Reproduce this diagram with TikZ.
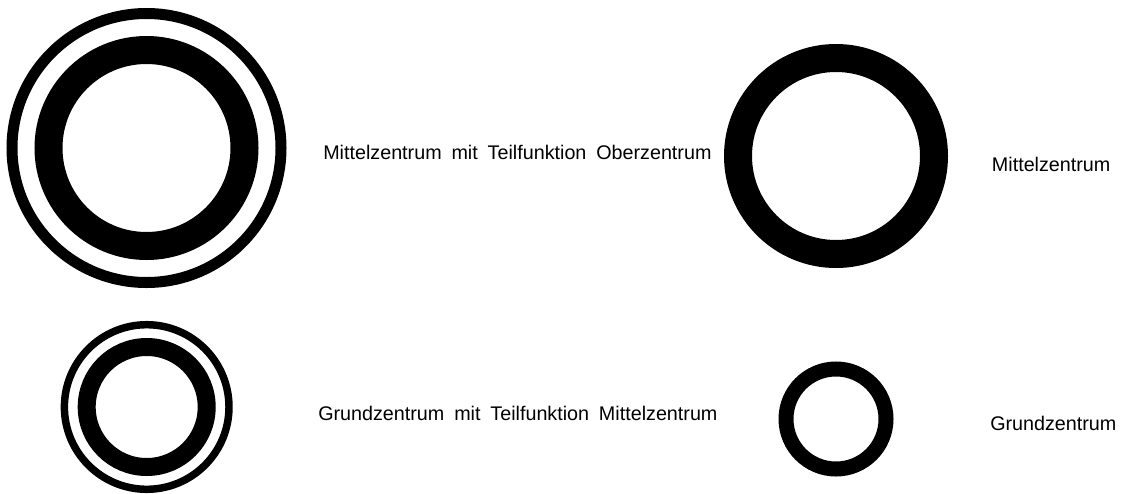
\documentclass[tikz,border=0pt]{standalone}
\usepackage{fontspec}
\setmainfont{Liberation Sans}
\usepackage{tikz}

\newcommand\labelfont{\fontsize{14.8}{16}\selectfont\spaceskip=0.5em\relax}
\tikzset{
  ringlabel/.style={anchor=base west,inner sep=0pt,font=\labelfont},
}

\begin{document}
\begin{tikzpicture}[x=0.75pt,y=0.75pt,yscale=-1,xscale=1]
\useasboundingbox (0,0) rectangle (1124,493);

%Shape: Circle -- Mittelzentrum mit Teilfunktion Oberzentrum
\draw [line width=8.25pt] (146.5,148) circle (134.5);
\draw [line width=21pt] (146.5,148) circle (98);
%Shape: Circle -- Mittelzentrum
\draw [line width=21pt] (836,156) circle (98);
%Shape: Circle -- Grundzentrum mit Teilfunktion Mittelzentrum
\draw [line width=5.6pt] (146.7,407) circle (82.3);
\draw [line width=13.5pt] (146.7,407) circle (60);
%Shape: Circle -- Grundzentrum
\draw [line width=11.25pt] (836,419) circle (50);

% Text Node
\node [ringlabel] (oz) at (323,159.3) {Mittelzentrum mit Teilfunktion Oberzentrum};
% Text Node
\node [ringlabel] (mzt) at (318,420) {Grundzentrum mit Teilfunktion Mittelzentrum};
% Text Node
\node [ringlabel] (mz) at (991.7,171.7) {Mittelzentrum};
% Text Node
\node [ringlabel] (gz) at (990,430) {Grundzentrum};

\end{tikzpicture}
\end{document}
